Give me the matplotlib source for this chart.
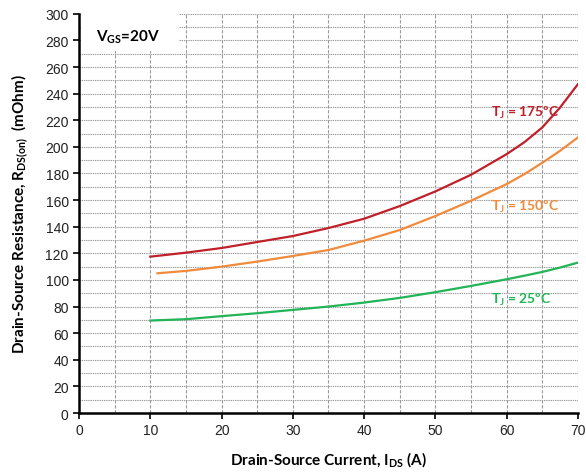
import matplotlib.pyplot as plt
from matplotlib.patches import Rectangle
import numpy as np

current = [10, 15, 20, 25, 30, 35, 40, 45, 50, 55, 60, 62.5, 65, 67.5, 70]
r_175 = [117.5, 120.5, 124, 128.5, 133, 139, 146, 155.5, 166.5, 179, 194.5, 203.5, 214.5, 229.5, 247]
current_150 = [11, 15, 20, 25, 30, 35, 40, 45, 50, 55, 60, 62.5, 65, 67.5, 70]
r_150 = [105, 106.8, 110, 113.8, 118, 122.5, 129.5, 137.5, 148, 159.5, 172, 179.5, 188, 197, 207]
r_25 = [69.5, 70.5, 72.8, 75, 77.5, 80, 83, 86.5, 90.8, 95.5, 100.5, 103.2, 106, 109.3, 113]

x_ticks = [0, 10, 20, 30, 40, 50, 60, 70]
y_ticks = list(range(0, 301, 20))

lab_font = ['Lato', 'DejaVu Sans']

fig = plt.figure(figsize=(5.86, 4.77), dpi=100)
ax = fig.add_axes([0.135, 0.132, 0.851, 0.837])

# grid: vertical dashed every 5, horizontal dotted every 10
for gx in np.arange(5, 71, 5):
    ax.axvline(gx, color='#9a9a9a', lw=0.8, ls=(0, (3, 1.5)), zorder=0)
for gy in np.arange(10, 301, 10):
    ax.axhline(gy, color='#9a9a9a', lw=0.8, ls=(0, (1.2, 0.8)), zorder=0)

ax.plot(current, r_175, color='#c0202a', lw=1.6)
ax.plot(current_150, r_150, color='#f08a3c', lw=1.6)
ax.plot(current, r_25, color='#22b457', lw=1.6)

ax.text(57.8, 226, r'T$_\mathregular{J}$ = 175ºC', color='#c0202a', fontsize=10,
        fontweight='bold', family=lab_font, va='center')
ax.text(57.8, 156, r'T$_\mathregular{J}$ = 150ºC', color='#f08a3c', fontsize=10,
        fontweight='bold', family=lab_font, va='center')
ax.text(57.8, 86, r'T$_\mathregular{J}$ = 25ºC', color='#22b457', fontsize=10,
        fontweight='bold', family=lab_font, va='center')

ax.add_patch(Rectangle((0.3, 272), 13.7, 27.5, facecolor='white', edgecolor='none', zorder=1))
ax.text(2.4, 283.5, r'V$_\mathregular{GS}$=20V', fontsize=11, fontweight='bold',
        family=lab_font, va='center', zorder=2)

ax.set_xlim(0, 70)
ax.set_ylim(0, 300)
ax.set_xticks(x_ticks)
ax.set_yticks(y_ticks)
for lbl in ax.get_xticklabels() + ax.get_yticklabels():
    lbl.set_family(['Liberation Sans', 'DejaVu Sans'])
    lbl.set_fontsize(10)
ax.tick_params(direction='out', length=4, width=1.2, colors='black', labelcolor='#222222')

ax.spines['top'].set_visible(False)
ax.spines['right'].set_visible(False)
ax.spines['left'].set_linewidth(1.8)
ax.spines['bottom'].set_linewidth(1.8)

ax.set_xlabel(r'Drain-Source Current, I$_\mathregular{DS}$ (A)', fontsize=11,
              fontweight='bold', family=lab_font, labelpad=9)
ax.set_ylabel(r'Drain-Source Resistance, R$_\mathregular{DS(on)}$  (mOhm)', fontsize=11,
              fontweight='bold', family=lab_font, labelpad=10)

fig.savefig('out.png', dpi=100)
